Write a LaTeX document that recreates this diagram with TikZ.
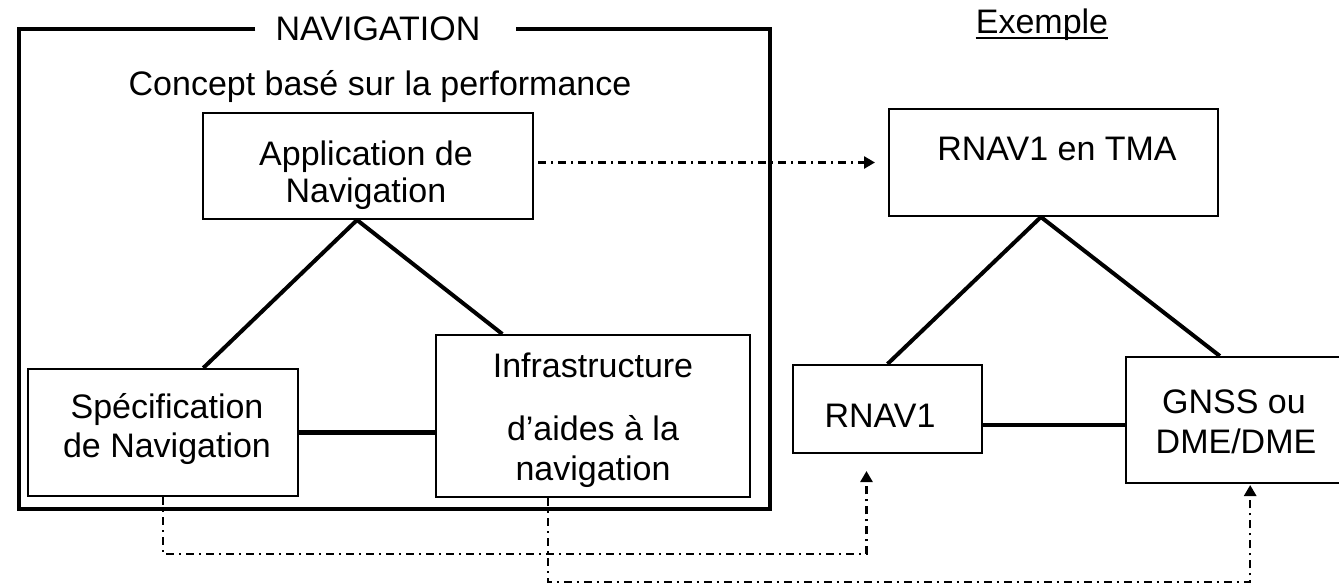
\documentclass[tikz,border=0pt]{standalone}
\usepackage{fontspec}
\setmainfont{Liberation Sans}
\usetikzlibrary{arrows.meta,calc}

\begin{document}
\begin{tikzpicture}[
    x=1pt, y=-1pt,
    font=\fontsize{34}{40}\selectfont,
    box/.style={draw, line width=2pt, inner sep=0pt},
    txt/.style={anchor=base, inner sep=0pt},
    link/.style={line width=4pt},
    frameline/.style={line width=4.5pt},
    dashdot/.style={line width=2.6pt, dash pattern=on 8pt off 5pt on 2pt off 5pt},
    tip/.style={-{Triangle[length=11pt,width=12pt]}},
  ]
  \useasboundingbox (0,0) rectangle (1339,584);

  % ---------- boxes ----------
  \node[box, minimum width=330, minimum height=106] (app)   at (368,166)    {};
  \node[box, minimum width=270, minimum height=127] (spec)  at (163,432.5)  {};
  \node[box, minimum width=314, minimum height=162] (infra) at (593,416)    {};
  \node[box, minimum width=329, minimum height=107] (tma)   at (1053.5,162.5) {};
  \node[box, minimum width=189, minimum height=88]  (rnav)  at (887.5,409)  {};
  \node[box, minimum width=218, minimum height=126] (gnss)  at (1235,420)   {};

  % ---------- texts ----------
  \node[txt] (title)   at (378,40)  {NAVIGATION};
  \node[txt] (concept) at (380,95)  {Concept basé sur la performance};
  \node[txt] (exemple) at (1042,33) {Exemple};
  \draw[line width=2pt] ([yshift=-5pt]exemple.base west) -- ([yshift=-5pt]exemple.base east);

  \node[txt] (app1)  at (366,165) {Application de};
  \node[txt] (app2)  at (366,202) {Navigation};
  \node[txt] (spec1) at (167,418) {Spécification};
  \node[txt] (spec2) at (167,457) {de Navigation};
  \node[txt] (inf1)  at (593,377) {Infrastructure};
  \node[txt] (inf2)  at (593,440) {d’aides à la};
  \node[txt] (inf3)  at (593,480) {navigation};
  \node[txt] (tma1)  at (1057,160) {RNAV1 en TMA};
  \node[txt] (rnav1) at (880,427) {RNAV1};
  \node[txt] (gnss1) at (1234,413) {GNSS ou};
  \node[txt] (gnss2) at (1236,453) {DME/DME};

  % ---------- outer frame with a gap for the title ----------
  \coordinate (fNW) at (19,29);
  \coordinate (fSW) at (19,509);
  \coordinate (fSE) at (770,509);
  \coordinate (fNE) at (770,29);
  \draw[frameline] ([xshift=-20pt]title.west |- fNW) -- (fNW) -- (fSW)
        -- (fSE) -- (fNE) -- ([xshift=35pt]title.east |- fNE);

  % ---------- tree connectors ----------
  \coordinate (appapex) at ($(app.south west)!.467!(app.south east)$);
  \draw[link] (appapex) -- ($(spec.north west)!.648!(spec.north east)$);
  \draw[link] (appapex) -- ($(infra.north west)!.213!(infra.north east)$);
  \draw[line width=5pt] (spec.east) -- (spec.east -| infra.west);

  \coordinate (tmaapex) at ($(tma.south west)!.462!(tma.south east)$);
  \draw[link] (tmaapex) -- (rnav.north);
  \draw[link] (tmaapex) -- ($(gnss.north west)!.431!(gnss.north east)$);
  \coordinate (rnavlink) at ($(rnav.north east)!.68!(rnav.south east)$);
  \draw[link] (rnavlink) -- (rnavlink -| gnss.west);

  % ---------- dash-dot correspondence arrows ----------
  \draw[dashdot, tip] ([xshift=4pt]app.east |- tma.west) -- ([xshift=-13pt]tma.west);

  \coordinate (rnavtip) at ($(rnav.south west)!.39!(rnav.south east) + (0,17)$);
  \draw[dashdot, tip] (spec.south) -- ++(0,57) -| (rnavtip);

  \coordinate (infraout) at ($(infra.south west)!.357!(infra.south east)$);
  \coordinate (gnsstip)  at ($(gnss.south west)!.569!(gnss.south east) + (0,1)$);
  \draw[dashdot, tip] (infraout) -- ++(0,84) -| (gnsstip);
\end{tikzpicture}
\end{document}
